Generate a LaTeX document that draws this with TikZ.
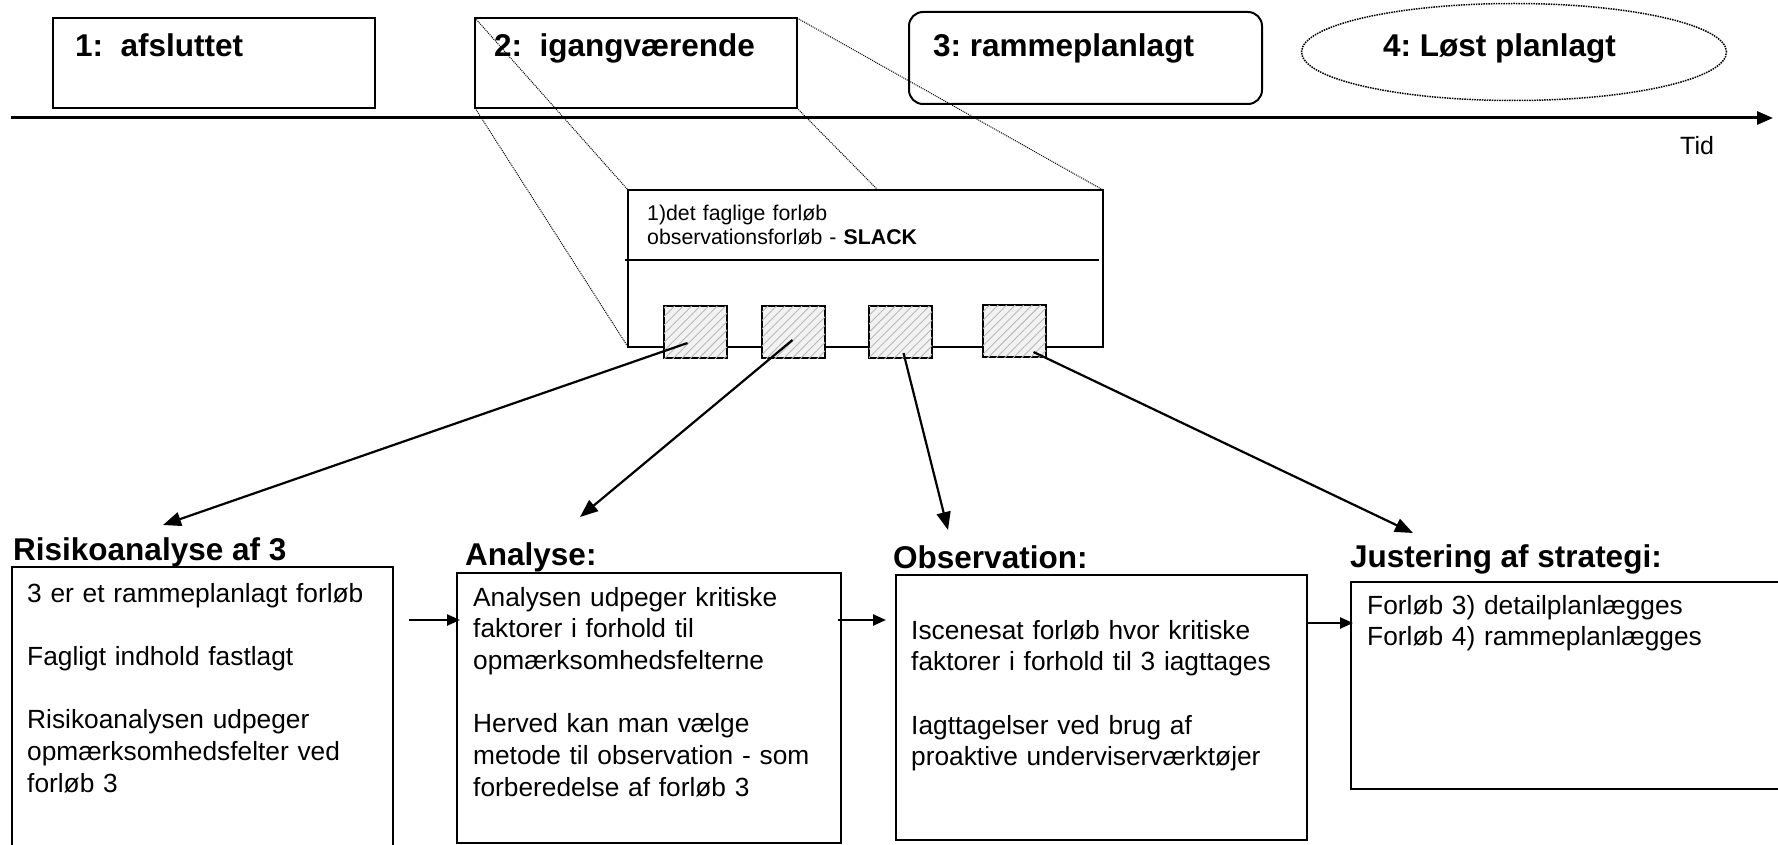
\documentclass[tikz,border=0pt]{standalone}
\usepackage{fontspec}
\setmainfont{Liberation Sans}
\usetikzlibrary{arrows.meta,calc,patterns.meta,shapes.geometric}
\frenchspacing

\begin{document}
\begin{tikzpicture}[x=1pt,y=-1pt,
    phasebox/.style={draw,line width=2,inner sep=0,outer sep=0,anchor=north west,minimum width=322,minimum height=90},
    phaselabel/.style={anchor=base west,inner sep=0,font=\fontsize{31.5}{38}\selectfont\bfseries},
    heading/.style={anchor=base west,inner sep=0,font=\fontsize{31.5}{38}\selectfont\bfseries},
    stepbox/.style={draw,line width=1.5,inner sep=0,outer sep=0,anchor=north west},
    steptext/.style={anchor=base west,inner sep=0,align=left,text width=420pt,font=\fontsize{26.3}{31.7}\selectfont},
    hatchbox/.style={draw,line width=1.6,inner sep=0,outer sep=0,anchor=north west,minimum width=63,minimum height=52,fill=gray!10,
      postaction={pattern={Lines[angle=45,distance=6pt,line width=0.9pt]},pattern color=gray!55}},
    zoomline/.style={densely dotted,line width=1},
    pickarrow/.style={line width=2.2,-{Triangle[length=18pt,width=14pt]}},
    flowarrow/.style={line width=2.4,-{Triangle[length=13pt,width=11pt]}}]
  \useasboundingbox (0,0) rectangle (1778,845);
  \fill[white] (0,0) rectangle (1778,845);

  % time line with the four phases
  \coordinate (t0) at (11,118);
  \coordinate (t1) at (1773,118);
  \draw[line width=3,-{Triangle[length=16pt,width=13pt]}] (t0) -- (t1);
  \node[anchor=base west,inner sep=0,font=\fontsize{25}{30}\selectfont] (tid) at (1680,155) {Tid};

  \node[phasebox] (p1) at (53,18) {};
  \node[phaselabel] (p1t) at (75,57) {1:\ \ afsluttet};
  \node[phasebox] (p2) at (475,18) {};
  \node[phaselabel] (p2t) at (494,57) {2:\ \ igangværende};
  \node[phasebox,rounded corners=14,minimum width=353,minimum height=92] (p3) at (909,12) {};
  \node[phaselabel] (p3t) at (933,57) {3: rammeplanlagt};
  \node[draw,ellipse,densely dotted,line width=1.5,inner sep=0,minimum width=425,minimum height=97] (p4) at (1514,52) {};
  \node[phaselabel] (p4t) at (1383,57) {4: Løst planlagt};

  % zoom on phase 2
  \node[stepbox,minimum width=475,minimum height=157] (zoom) at (628,190) {};
  \draw[line width=1.5] ([xshift=-3,yshift=-70]zoom.north west) -- ([xshift=-4,yshift=-70]zoom.north east);
  \node[anchor=base west,inner sep=0,align=left,text width=420pt,font=\fontsize{21.3}{24}\selectfont] (ztext) at (647,221)
    {1)det faglige forløb\\observationsforløb - \textbf{SLACK}};

  \draw[zoomline] (p2.north west) -- (zoom.north west);
  \draw[zoomline] (p2.south west) -- (zoom.south west);
  \draw[zoomline] (p2.north east) -- (zoom.north east);
  \draw[zoomline] (p2.south east) -- ($(zoom.north west)!0.526!(zoom.north east)$);

  \node[hatchbox] (s1) at (664,306) {};
  \node[hatchbox] (s2) at (762,306) {};
  \node[hatchbox] (s3) at (869,306) {};
  \node[hatchbox] (s4) at (983,305) {};

  % the four steps
  \node[heading] (h1) at (13,560) {Risikoanalyse af 3};
  \node[heading] (h2) at (465,565) {Analyse:};
  \node[heading] (h3) at (893,568) {Observation:};
  \node[heading] (h4) at (1350,567) {Justering af strategi:};

  \node[stepbox,minimum width=381,minimum height=292] (r1) at (12,567) {};
  \node[stepbox,minimum width=384,minimum height=270] (r2) at (457,573) {};
  \node[stepbox,minimum width=411,minimum height=265] (r3) at (896,575) {};
  \node[stepbox,minimum width=440,minimum height=207] (r4) at (1351,582) {};

  \node[steptext] (r1t) at (27,602) {3 er et rammeplanlagt forløb\\[31.7pt]Fagligt indhold fastlagt\\[31.7pt]Risikoanalysen udpeger\\opmærksomhedsfelter ved\\forløb 3};
  \node[steptext] (r2t) at (473,606) {Analysen udpeger kritiske\\faktorer i forhold til\\opmærksomhedsfelterne\\[31.7pt]Herved kan man vælge\\metode til observation - som\\forberedelse af forløb 3};
  \node[steptext] (r3t) at (911,639) {Iscenesat forløb hvor kritiske\\faktorer i forhold til 3 iagttages\\[31.7pt]Iagttagelser ved brug af\\proaktive underviserværktøjer};
  \node[steptext] (r4t) at (1367,614) {Forløb 3) detailplanlægges\\Forløb 4) rammeplanlægges};

  \coordinate (e1) at (163,525);
  \coordinate (e2) at (580,517);
  \coordinate (e3) at (948,530);
  \coordinate (e4) at (1413,533);
  \draw[pickarrow] ([shift={(-8,11)}]s1.center) -- (e1);
  \draw[pickarrow] ([shift={(-1,8)}]s2.center) -- (e2);
  \draw[pickarrow] ([shift={(3,21)}]s3.center) -- (e3);
  \draw[pickarrow] ([shift={(19,21)}]s4.center) -- (e4);

  \draw[flowarrow] ([xshift=16,yshift=-53]r1.north east) -- ([xshift=3,yshift=-47]r2.north west);
  \draw[flowarrow] ([xshift=-3,yshift=-47]r2.north east) -- ([xshift=-10,yshift=-45]r3.north west);
  \draw[flowarrow] ([xshift=1,yshift=-48]r3.north east) -- ([xshift=2,yshift=-41]r4.north west);
\end{tikzpicture}
\end{document}
